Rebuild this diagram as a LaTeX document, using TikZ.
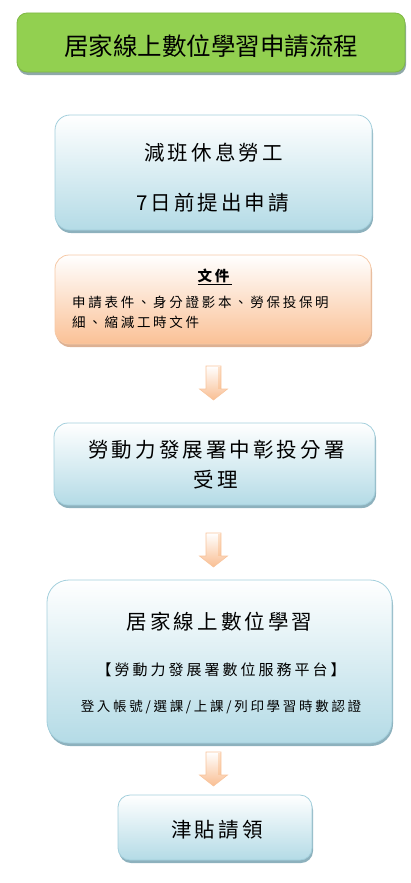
\documentclass[tikz,border=0pt]{standalone}
\usepackage{fontspec}
\setmainfont{Noto Sans CJK TC}
\newfontfamily\cjkt{Noto Sans CJK TC}
\newfontfamily\cjkm[LetterSpace=15]{Noto Sans CJK TC}
\newfontfamily\cjks[LetterSpace=20]{Noto Sans CJK TC}
\usetikzlibrary{calc,shadows}
\definecolor{titlegreen}{HTML}{92D050}
\definecolor{greenedge}{HTML}{80B846}
\definecolor{greenshadow}{HTML}{8FA8A8}
\definecolor{bluebot}{HTML}{B4DBE6}
\definecolor{blueedge}{HTML}{A3CFDC}
\definecolor{blueshadow}{HTML}{8DB1BD}
\definecolor{peach}{HTML}{FAC196}
\definecolor{peachedge}{HTML}{F6C9A6}
\definecolor{peachshadow}{HTML}{DDB193}
\definecolor{arrowedge}{HTML}{F8C49C}
\definecolor{arrowbot}{HTML}{F9BE92}
\tikzset{
  titlebox/.style={rectangle, rounded corners=10pt, fill=titlegreen, draw=greenedge, line width=0.8pt,
    general shadow={shadow xshift=1pt, shadow yshift=-3pt, fill=greenshadow}},
  bluebox/.style={rectangle, rounded corners=#1, top color=white, bottom color=bluebot, draw=blueedge, line width=0.8pt,
    general shadow={shadow xshift=1pt, shadow yshift=-3pt, fill=blueshadow}},
  orangebox/.style={rectangle, rounded corners=14pt, top color=white, bottom color=peach, draw=peachedge, line width=0.8pt,
    general shadow={shadow xshift=1pt, shadow yshift=-3pt, fill=peachshadow}},
  label/.style={inner sep=0pt, text=black},
  blockarrow/.style={top color=white, bottom color=arrowbot, draw=arrowedge, line width=0.6pt}
}
\newcommand{\downarrowshape}[1]{%
  \shade[blockarrow] ($(#1)+(-7.5,0)$) -- ($(#1)+(7.5,0)$) -- ($(#1)+(7.5,23)$) -- ($(#1)+(14,23)$)
    -- ($(#1)+(0,34)$) -- ($(#1)+(-14,23)$) -- ($(#1)+(-7.5,23)$) -- cycle;
  \fill[arrowbot!80!orange, opacity=0.35] ($(#1)+(4.5,1)$) rectangle ($(#1)+(7,23)$);
}
\begin{document}
\begin{tikzpicture}[x=1pt,y=-1pt]
\useasboundingbox (0,0) rectangle (411,883);
% boxes
\node[titlebox, minimum width=388pt, minimum height=59pt] (title) at (211,42.5) {};
\node[bluebox=15pt, minimum width=317pt, minimum height=115pt] (b1) at (213.5,172.5) {};
\node[orangebox, minimum width=316pt, minimum height=89pt] (b2) at (213,299.5) {};
\node[bluebox=14pt, minimum width=321pt, minimum height=82pt] (b3) at (214.5,464) {};
\node[bluebox=22pt, minimum width=345pt, minimum height=163pt] (b4) at (219.5,661.5) {};
\node[bluebox=12pt, minimum width=194pt, minimum height=65pt] (b5) at (215,827.5) {};
% texts
\node[label, font=\cjkt\fontsize{24.5}{26}\selectfont] (tt) at (211,46) {居家線上數位學習申請流程};
\node[label, font=\cjkm\fontsize{20.5}{22}\selectfont] (t1a) at (213.5,153) {減班休息勞工};
\node[label, font=\cjkm\fontsize{20.5}{22}\selectfont] (t1b) at (212.5,203) {7日前提出申請};
\node[label, font=\cjks\fontsize{14.5}{16}\selectfont] (t2a) at (215,277) {\underline{\textbf{文件}}};
\node[label, anchor=west, font=\cjks\fontsize{13.5}{15}\selectfont] (t2b) at (72,302) {申請表件、身分證影本、勞保投保明};
\node[label, anchor=west, font=\cjks\fontsize{13.5}{15}\selectfont] (t2c) at (72,322) {細、縮減工時文件};
\node[label, font=\cjkm\fontsize{20.5}{22}\selectfont] (t3a) at (216.5,450) {勞動力發展署中彰投分署};
\node[label, font=\cjkm\fontsize{20.5}{22}\selectfont] (t3b) at (216,480) {受理};
\node[label, font=\cjkm\fontsize{20.5}{22}\selectfont] (t4a) at (219.5,622) {居家線上數位學習};
\node[label, font=\cjks\fontsize{15}{17}\selectfont] (t4b) at (221,670) {【勞動力發展署數位服務平台】};
\node[label, font=\cjks\fontsize{13.5}{15}\selectfont] (t4c) at (221,707) {登入帳號/選課/上課/列印學習時數認證};
\node[label, font=\cjkm\fontsize{20.5}{22}\selectfont] (t5) at (217,830) {津貼請領};
% arrows
\coordinate (a1) at (213.5,366);
\coordinate (a2) at (213.5,533);
\coordinate (a3) at (213.5,752);
\downarrowshape{a1}
\downarrowshape{a2}
\downarrowshape{a3}
\end{tikzpicture}
\end{document}
